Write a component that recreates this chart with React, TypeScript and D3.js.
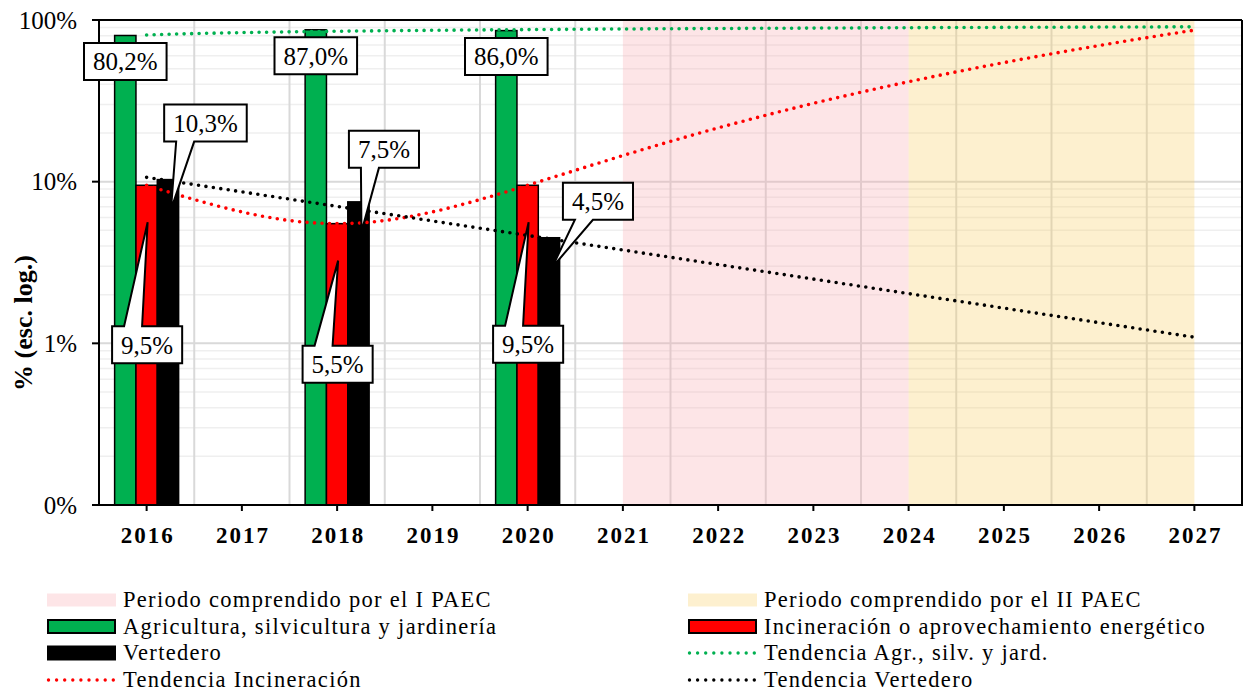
import React from 'react';
import * as d3 from 'd3';

// ---------- DATA ----------
const years = ['2016', '2017', '2018', '2019', '2020', '2021', '2022', '2023', '2024', '2025', '2026', '2027'];
const dataYears = ['2016', '2018', '2020'];
const agricultura = [0.802, 0.87, 0.86];
const incineracion = [0.095, 0.055, 0.095];
const vertedero = [0.103, 0.075, 0.045];
const yTicks = [0.001, 0.01, 0.1, 1];
const periodI = ['2021', '2024'];
const periodII = ['2024', '2027'];

const seriesNames = ['Agricultura, silvicultura y jardinería', 'Incineración o aprovechamiento energético', 'Vertedero'];
const trendNames = ['Tendencia Agr., silv. y jard.', 'Tendencia Incineración', 'Tendencia Vertedero'];
const periodNames = ['Periodo comprendido por el I PAEC', 'Periodo comprendido por el II PAEC'];
const yTitle = '% (esc. log.)';

// ---------- STYLE / LAYOUT ----------
const W = 1243, H = 691;
const M = { left: 99, right: 1242, top: 20, bottom: 505 };
const colors = { agr: '#00b050', inc: '#ff0000', ver: '#000000' };
const FONT = '"Liberation Serif", "Times New Roman", serif';

// label layout: dx = box centre offset from bar centre, dy = box top offset from bar top
const labelLayout = {
  agr: [{ dx: 0, dy: 7.5, tail: 'none' }, { dx: 0, dy: 7.5, tail: 'none' }, { dx: 0, dy: 7.5, tail: 'none' }],
  inc: [{ dx: 0.5, dy: 141, tail: 'top' }, { dx: 0.5, dy: 122, tail: 'top' }, { dx: 0.5, dy: 140.5, tail: 'top' }],
  ver: [{ dx: 37.5, dy: -75, tail: 'bottom' }, { dx: 25.5, dy: -71, tail: 'bottom' }, { dx: 49, dy: -55, tail: 'bottom' }],
};

// ---------- TREND FITS ----------
function linFit(xs: number[], ys: number[]) {
  const mx = d3.mean(xs) as number, my = d3.mean(ys) as number;
  let sxy = 0, sxx = 0;
  xs.forEach((x, i) => { sxy += (x - mx) * (ys[i] - my); sxx += (x - mx) * (x - mx); });
  const a = sxy / sxx;
  return [a, my - a * mx];
}
function fitLog(xs: number[], ys: number[]) {
  const [a, b] = linFit(xs.map(Math.log), ys);
  return (x: number) => a * Math.log(x) + b;
}
function fitExp(xs: number[], ys: number[]) {
  const [a, b] = linFit(xs, ys.map(Math.log));
  return (x: number) => Math.exp(a * x + b);
}
function fitPoly2(xs: number[], ys: number[]) {
  const S = [0, 0, 0, 0, 0], T = [0, 0, 0];
  xs.forEach((x, i) => {
    for (let k = 0; k < 5; k++) S[k] += Math.pow(x, k);
    for (let k = 0; k < 3; k++) T[k] += Math.pow(x, k) * ys[i];
  });
  const A = [[S[0], S[1], S[2], T[0]], [S[1], S[2], S[3], T[1]], [S[2], S[3], S[4], T[2]]];
  for (let c = 0; c < 3; c++) {
    let p = c;
    for (let r = c + 1; r < 3; r++) if (Math.abs(A[r][c]) > Math.abs(A[p][c])) p = r;
    [A[c], A[p]] = [A[p], A[c]];
    for (let r = 0; r < 3; r++) {
      if (r === c) continue;
      const f = A[r][c] / A[c][c];
      for (let k = c; k < 4; k++) A[r][k] -= f * A[c][k];
    }
  }
  const co = [A[0][3] / A[0][0], A[1][3] / A[1][1], A[2][3] / A[2][2]];
  return (x: number) => co[0] + co[1] * x + co[2] * x * x;
}

function textW(s: string, size: number) {
  let w = 0;
  for (const ch of s) w += ch === ',' ? 0.25 : ch === '%' ? 0.833 : 0.5;
  return w * size;
}

const fmtLabel = (v: number) => (v * 100).toFixed(1).replace('.', ',') + '%';

export default function App() {
  const x = d3.scaleBand().domain(years).range([M.left, M.right]).padding(0);
  const bw = x.bandwidth();
  const cx = (yr: string) => (x(yr) as number) + bw / 2;
  const y = d3.scaleLog().domain([0.001, 1]).range([M.bottom, M.top]);
  const keys = ['agr', 'inc', 'ver'] as const;
  const values = { agr: agricultura, inc: incineracion, ver: vertedero };
  const inner = d3.scaleBand().domain(keys as unknown as string[]).range([-32, 32]).padding(0);
  const ib = inner.bandwidth();

  // gridlines
  const minor: number[] = [];
  for (let e = -3; e < 0; e++) for (let k = 2; k <= 9; k++) minor.push(k * Math.pow(10, e));
  const vGrid = years.slice(0, -1).map((yr) => (x(yr) as number) + bw);

  // trends (x as category position 1..12)
  const xi = dataYears.map((yr) => years.indexOf(yr) + 1);
  const trends = [
    { key: 'agr', f: fitLog(xi, agricultura) },
    { key: 'inc', f: fitPoly2(xi, incineracion) },
    { key: 'ver', f: fitExp(xi, vertedero) },
  ];
  const samples = d3.range(1, years.length + 0.0001, 0.05);
  const px = (t: number) => cx(years[0]) + (t - 1) * bw;
  const line = d3.line<number>().x((t) => px(t));

  const fmtTick = d3.format('.0%');
  const dotted = { strokeWidth: 3.6, strokeLinecap: 'round' as const, strokeDasharray: '0 7.5', fill: 'none' };

  const callouts: JSX.Element[] = [];
  keys.forEach((k) => {
    dataYears.forEach((yr, i) => {
      const v = values[k][i];
      const bc = cx(yr) + (inner(k) as number) + ib / 2;
      const top = y(v);
      const lay = labelLayout[k][i];
      const txt = fmtLabel(v);
      const w = textW(txt, 25) + 18;
      const h = 37;
      const l = bc + lay.dx - w / 2, r = l + w;
      const t = top + lay.dy, b = t + h;
      let d = '';
      if (lay.tail === 'bottom') {
        const tx = bc + 3, ty = top + 30;
        d = `M${l},${t}H${r}V${b}H${l + 30}L${tx},${ty}L${l + 12},${b}H${l}Z`;
      } else if (lay.tail === 'top') {
        const tx = bc + 1, ty = top + 37;
        d = `M${l},${t}H${l + 12}L${tx},${ty}L${l + 30},${t}H${r}V${b}H${l}Z`;
      } else {
        d = `M${l},${t}H${r}V${b}H${l}Z`;
      }
      callouts.push(
        <g key={`c-${k}-${yr}`}>
          <path d={d} fill="#fff" stroke="#000" strokeWidth={2} strokeLinejoin="miter" />
          <text x={(l + r) / 2} y={(t + b) / 2} dy="0.35em" textAnchor="middle" fontSize={25} fontFamily={FONT}>{txt}</text>
        </g>
      );
    });
  });

  const legendRows = [600, 626.5, 653, 680];
  const colL = { sw: 47, tx: 123 }, colR = { sw: 688, tx: 764 };
  const swW = 69;
  const legendItems = [
    { col: colL, row: 0, type: 'band', fill: '#f9a8b0', label: periodNames[0] },
    { col: colR, row: 0, type: 'band', fill: '#f9cd5f', label: periodNames[1] },
    { col: colL, row: 1, type: 'bar', fill: colors.agr, label: seriesNames[0] },
    { col: colR, row: 1, type: 'bar', fill: colors.inc, label: seriesNames[1] },
    { col: colL, row: 2, type: 'bar', fill: colors.ver, label: seriesNames[2] },
    { col: colR, row: 2, type: 'line', fill: colors.agr, label: trendNames[0] },
    { col: colL, row: 3, type: 'line', fill: colors.inc, label: trendNames[1] },
    { col: colR, row: 3, type: 'line', fill: colors.ver, label: trendNames[2] },
  ];

  return (
    <svg width={W} height={H} style={{ position: 'absolute', left: 0, top: 0, background: '#fff' }} fontFamily={FONT}>
      <rect x={0} y={0} width={W} height={H} fill="#fff" />
      {/* minor gridlines */}
      {minor.map((v) => (
        <line key={`mi${v}`} x1={M.left} x2={M.right} y1={y(v)} y2={y(v)} stroke="#efefef" strokeWidth={1.5} />
      ))}
      {yTicks.slice(1, -1).map((v) => (
        <line key={`ma${v}`} x1={M.left} x2={M.right} y1={y(v)} y2={y(v)} stroke="#d9d9d9" strokeWidth={2} />
      ))}
      {vGrid.map((gx) => (
        <line key={`vg${gx}`} x1={gx} x2={gx} y1={M.top} y2={M.bottom} stroke="#d9d9d9" strokeWidth={2} />
      ))}
      {/* period bands */}
      <rect x={cx(periodI[0])} y={M.top} width={cx(periodI[1]) - cx(periodI[0])} height={M.bottom - M.top} fill="#f9a8b0" fillOpacity={0.3} />
      <rect x={cx(periodII[0])} y={M.top} width={cx(periodII[1]) - cx(periodII[0])} height={M.bottom - M.top} fill="#f9cd5f" fillOpacity={0.3} />
      {/* bars */}
      {dataYears.map((yr, i) =>
        keys.map((k) => {
          const bx = cx(yr) + (inner(k) as number);
          const v = values[k][i];
          return (
            <rect key={`b-${yr}-${k}`} x={bx} y={y(v)} width={ib} height={M.bottom - y(v)} fill={colors[k]} stroke="#000" strokeWidth={1.5} />
          );
        })
      )}
      {/* frame & axes */}
      <line x1={M.left} x2={M.right} y1={M.top} y2={M.top} stroke="#000" strokeWidth={2} />
      <line x1={M.right} x2={M.right} y1={M.top} y2={M.bottom} stroke="#000" strokeWidth={2} />
      <line x1={M.left} x2={M.left} y1={M.top - 1} y2={M.bottom + 1} stroke="#000" strokeWidth={2} />
      <line x1={M.left - 1} x2={M.right + 1} y1={M.bottom} y2={M.bottom} stroke="#000" strokeWidth={2} />
      {yTicks.map((v) => (
        <g key={`yt${v}`}>
          <line x1={M.left - 7} x2={M.left} y1={y(v)} y2={y(v)} stroke="#000" strokeWidth={2} />
          <text x={77} y={y(v)} dy="0.35em" textAnchor="end" fontSize={25}>{fmtTick(v)}</text>
        </g>
      ))}
      {years.map((yr) => (
        <g key={`xt${yr}`}>
          <line x1={cx(yr)} x2={cx(yr)} y1={M.bottom} y2={M.bottom + 6} stroke="#000" strokeWidth={2} />
          <text x={cx(yr) + 1} y={543} textAnchor="middle" fontSize={23} fontWeight="bold" letterSpacing={2}>{yr}</text>
        </g>
      ))}
      <text transform={`translate(32,323) rotate(-90)`} textAnchor="middle" fontSize={26} fontWeight="bold">{yTitle}</text>
      {/* trendlines */}
      {trends.map((tr) => (
        <path key={`tr-${tr.key}`} d={line.y((t) => y(tr.f(t)))(samples) || ''} stroke={colors[tr.key as 'agr']} {...dotted} />
      ))}
      {/* callouts */}
      {callouts}
      {/* legend */}
      {legendItems.map((it, i) => {
        const cy = legendRows[it.row];
        let sw: JSX.Element;
        if (it.type === 'band') sw = <rect x={it.col.sw} y={cy - 6.5} width={swW} height={13} fill={it.fill} fillOpacity={0.3} />;
        else if (it.type === 'bar') sw = <rect x={it.col.sw + 1} y={cy - 6.5} width={swW - 2} height={13} fill={it.fill} stroke="#000" strokeWidth={2} />;
        else sw = <line x1={it.col.sw + 1.5} x2={it.col.sw + swW} y1={cy} y2={cy} stroke={it.fill} strokeWidth={3.4} strokeLinecap="round" strokeDasharray="0 8.1" />;
        return (
          <g key={`lg${i}`}>
            {sw}
            <text x={it.col.tx} y={cy} dy="0.33em" fontSize={22.5} letterSpacing={1.3}>{it.label}</text>
          </g>
        );
      })}
    </svg>
  );
}
